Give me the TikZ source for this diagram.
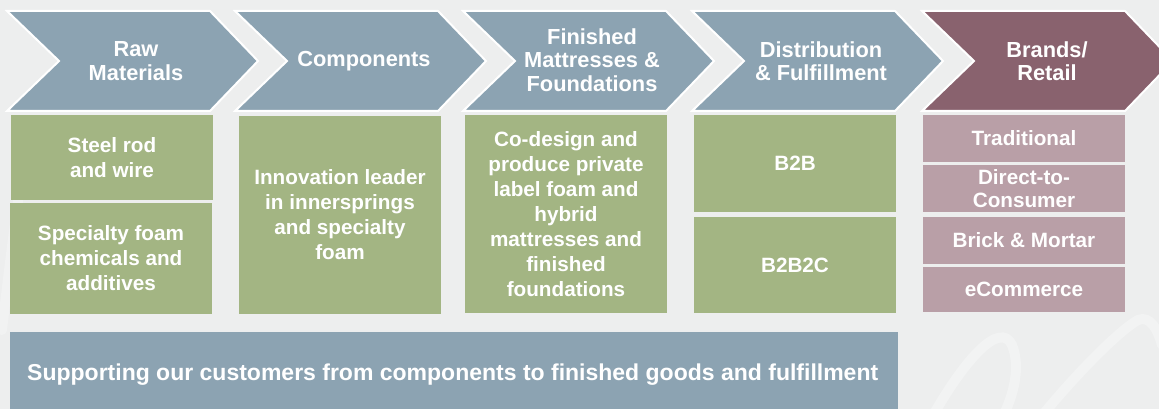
\documentclass[tikz,border=0pt]{standalone}
\usepackage{fontspec}
\setmainfont{Liberation Sans}
\definecolor{bg}{HTML}{EDEEEE}
\definecolor{chevblue}{HTML}{8CA3B2}
\definecolor{chevred}{HTML}{89626E}
\definecolor{boxgreen}{HTML}{A3B583}
\definecolor{boxpink}{HTML}{B99FA7}
\tikzset{
  chev/.style={draw=white, line width=2pt, line join=miter},
  title/.style={text=white, font=\bfseries\fontsize{21.8}{23.5}\selectfont, align=center, inner sep=0pt},
  body/.style={text=white, font=\bfseries\fontsize{20.7}{25}\selectfont, align=center, inner sep=0pt},
  gbox/.style={fill=boxgreen, body},
  pbox/.style={fill=boxpink, body},
  swoosh/.style={white, opacity=0.3, line width=10pt, line cap=round},
}
\begin{document}
\begin{tikzpicture}[x=1pt,y=-1pt]
\useasboundingbox (0,0) rectangle (1159,409);
\fill[bg] (0,0) rectangle (1159,409);
% faint background swooshes
\draw[swoosh] (935,412) .. controls (965,360) and (1000,320) .. (1012,345) .. controls (1020,365) and (1015,390) .. (1005,412);
\draw[swoosh] (1045,412) .. controls (1080,370) and (1120,330) .. (1138,320) .. controls (1150,315) and (1158,330) .. (1162,345);
\draw[swoosh, opacity=0.25] (2,330) .. controls (10,260) and (20,180) .. (30,120);
% chevrons
\foreach \L/\col/\nm in {7/chevblue/c1, 235/chevblue/c2, 463/chevblue/c3, 692/chevblue/c4, 922/chevred/c5}{
  \filldraw[chev, fill=\col] (\L,11) -- ({\L+203},11) -- ({\L+251},61) -- ({\L+203},111) -- (\L,111) -- ({\L+52},61) -- cycle;
}
\node[title] (t1) at (136,61) {Raw\\Materials};
\node[title] (t2) at (364,61) {Components};
\node[title] (t3) at (592,60) {Finished\\Mattresses \&\\Foundations};
\node[title] (t4) at (821,61) {Distribution\\\& Fulfillment};
\node[title] (t5) at (1047,61) {Brands/\\Retail};
% green boxes
\node[gbox, minimum width=202pt, minimum height=85pt] (s1) at (112,157.5) {Steel rod\\and wire};
\node[gbox, minimum width=202pt, minimum height=111pt] (s2) at (111,258.5) {Specialty foam\\chemicals and\\additives};
\node[gbox, minimum width=202pt, minimum height=198pt] (s3) at (340,215) {Innovation leader\\in innersprings\\and specialty\\foam};
\node[gbox, minimum width=202pt, minimum height=198pt] (s4) at (566,214) {Co-design and\\produce private\\label foam and\\hybrid\\mattresses and\\finished\\foundations};
\node[gbox, minimum width=202pt, minimum height=97pt] (s5) at (795,163.5) {B2B};
\node[gbox, minimum width=202pt, minimum height=96pt] (s6) at (795,265) {B2B2C};
% pink boxes
\node[pbox, minimum width=202pt, minimum height=47pt] (p1) at (1024,138.5) {Traditional};
\node[pbox, minimum width=202pt, minimum height=47pt, font=\bfseries\fontsize{20.7}{23}\selectfont] (p2) at (1024,188.5) {Direct-to-\\Consumer};
\node[pbox, minimum width=202pt, minimum height=47pt] (p3) at (1024,240.5) {Brick \& Mortar};
\node[pbox, minimum width=202pt, minimum height=45pt] (p4) at (1024,289.5) {eCommerce};
% banner
\fill[chevblue] (10,332) rectangle (898,412);
\node[text=white, font=\bfseries\fontsize{23}{26}\selectfont, anchor=west, inner sep=0pt] (banner) at (27,375) {Supporting our customers from components to finished goods and fulfillment};
\end{tikzpicture}
\end{document}
